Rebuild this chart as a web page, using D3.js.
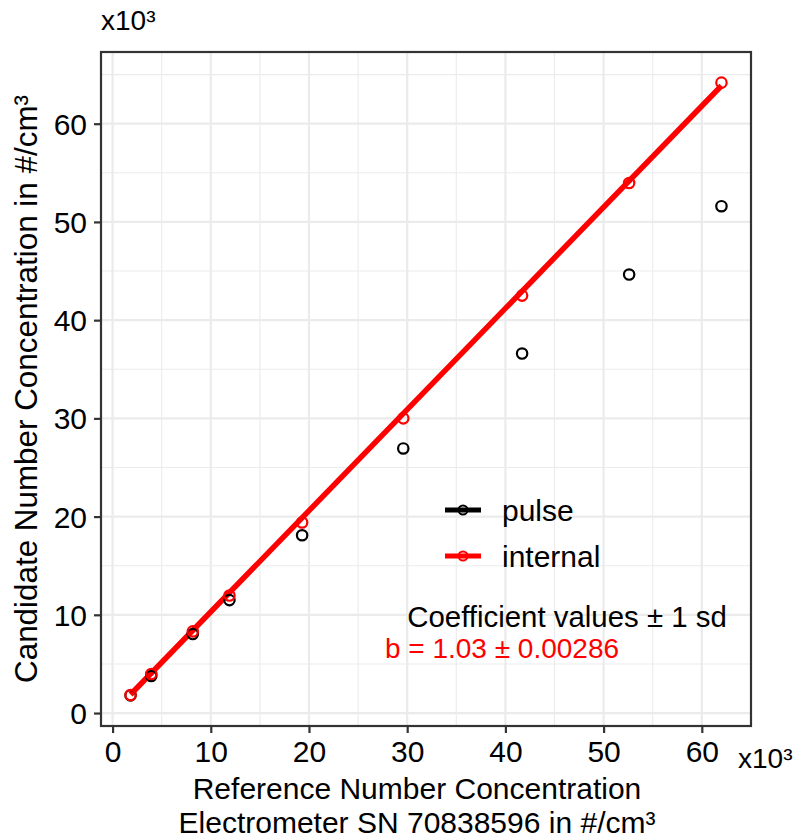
<!DOCTYPE html>
<html>
<head>
<meta charset="utf-8">
<script src="https://cdn.jsdelivr.net/npm/d3@7"></script>
<style>
  body{margin:0;background:#fff;}
  text{font-family:"Liberation Sans",Arial,Helvetica,sans-serif;}
</style>
</head>
<body>
<svg id="chart" width="798" height="839"></svg>
<script>
// 数据 (x10^3 #/cm3)
var refConc=[1.83,3.94,8.17,11.9,19.3,29.6,41.7,52.6,62.0];
var internalConc=[1.83,3.97,8.31,11.96,19.4,30.0,42.5,53.96,64.18];
var pulseConc=[1.8,3.77,8.04,11.5,18.1,26.94,36.6,44.64,51.6];
var seriesNames=["pulse","internal"];
var seriesColors=["#000000","#ff0000"];
var fitSlope=1.03;
var fitLabel="b = 1.03 \u00b1 0.00286";
var xTitleLines=["Reference Number Concentration","Electrometer SN 70838596 in #/cm\u00b3"];
var xTicks=[0,10,20,30,40,50,60];
var yTicks=[0,10,20,30,40,50,60];
var xMinor=[5,15,25,35,45,55,65];
var yMinor=[5,15,25,35,45,55,65];

// 画布布局
var LEFT=101,TOP=52,RIGHT=751,BOTTOM=726;
var svg=d3.select("#chart");

// 坐标范围 (ggplot 5% 扩展)
function expand(ext){var d=(ext[1]-ext[0])*0.05;return [ext[0]-d,ext[1]+d];}
var xExt=d3.extent(refConc);
var yExt=d3.extent(internalConc.concat(pulseConc));
var x=d3.scaleLinear().domain(expand(xExt)).range([LEFT,RIGHT]);
var y=d3.scaleLinear().domain(expand(yExt)).range([BOTTOM,TOP]);

//网格
var grid=svg.append("g");
grid.selectAll(".vminor").data(xMinor.filter(function(d){return x(d)<=RIGHT;})).enter().append("line")
  .attr("x1",function(d){return x(d);}).attr("x2",function(d){return x(d);})
  .attr("y1",TOP).attr("y2",BOTTOM).style("stroke","#ebebeb").style("stroke-width",1.1);
grid.selectAll(".hminor").data(yMinor.filter(function(d){return y(d)>=TOP;})).enter().append("line")
  .attr("y1",function(d){return y(d);}).attr("y2",function(d){return y(d);})
  .attr("x1",LEFT).attr("x2",RIGHT).style("stroke","#ebebeb").style("stroke-width",1.1);
grid.selectAll(".vmajor").data(xTicks).enter().append("line")
  .attr("x1",function(d){return x(d);}).attr("x2",function(d){return x(d);})
  .attr("y1",TOP).attr("y2",BOTTOM).style("stroke","#ebebeb").style("stroke-width",2.2);
grid.selectAll(".hmajor").data(yTicks).enter().append("line")
  .attr("y1",function(d){return y(d);}).attr("y2",function(d){return y(d);})
  .attr("x1",LEFT).attr("x2",RIGHT).style("stroke","#ebebeb").style("stroke-width",2.2);

// 拟合线
svg.append("line")
  .attr("x1",x(xExt[0])).attr("y1",y(fitSlope*xExt[0]))
  .attr("x2",x(xExt[1])).attr("y2",y(fitSlope*xExt[1]))
  .style("stroke",seriesColors[1]).style("stroke-width",5.5);

// 点
[pulseConc,internalConc].forEach(function(vals,k){
  svg.append("g").selectAll("circle").data(vals).enter().append("circle")
    .attr("cx",function(d,i){return x(refConc[i]);})
    .attr("cy",function(d){return y(d);})
    .attr("r",5.2)
    .style("fill","none").style("stroke",seriesColors[k]).style("stroke-width",2.2);
});

// 边框
svg.append("rect").attr("x",LEFT).attr("y",TOP).attr("width",RIGHT-LEFT).attr("height",BOTTOM-TOP)
  .style("fill","none").style("stroke","#333").style("stroke-width",2.2);

// 坐标轴
var xAxis=svg.append("g").attr("transform","translate(0,"+BOTTOM+")")
  .call(d3.axisBottom(x).tickValues(xTicks).tickSize(7).tickPadding(8).tickFormat(d3.format("d")));
var yAxis=svg.append("g").attr("transform","translate("+LEFT+",0)")
  .call(d3.axisLeft(y).tickValues(yTicks).tickSize(7).tickPadding(7).tickFormat(d3.format("d")));
[xAxis,yAxis].forEach(function(a){
  a.select(".domain").remove();
  a.selectAll(".tick line").style("stroke","#333").style("stroke-width",2.2);
  a.selectAll(".tick text").style("font-size","30px").style("fill","#000")
   .style("font-family","'Liberation Sans',Arial,sans-serif");
});
xAxis.selectAll(".tick text").attr("dy","0.71em");
yAxis.selectAll(".tick text").attr("dy","0.35em");

// 倍数标注
svg.append("text").attr("x",101).attr("y",30).style("font-size","28px").text("x10\u00b3");
svg.append("text").attr("x",738).attr("y",768).style("font-size","28px").text("x10\u00b3");

// 轴标题
xTitleLines.forEach(function(t,i){
  svg.append("text").attr("text-anchor","middle").style("font-size","30px")
    .attr("x",417).attr("y",799+i*34).text(t);
});
svg.append("text").attr("text-anchor","middle").style("font-size","31.4px")
  .attr("transform","translate(37,"+((TOP+BOTTOM)/2)+") rotate(-90)")
  .text("Candidate Number Concentration in #/cm\u00b3");

// 图例
var legend=svg.append("g");
seriesNames.forEach(function(name,i){
  var ly=510+i*46;
  legend.append("line").attr("x1",445).attr("x2",481).attr("y1",ly).attr("y2",ly)
    .style("stroke",seriesColors[i]).style("stroke-width",5);
  legend.append("circle").attr("cx",463).attr("cy",ly).attr("r",4.5)
    .style("fill","none").style("stroke",seriesColors[i]).style("stroke-width",2);
  legend.append("text").attr("x",502).attr("y",ly+11).style("font-size","30px").text(name);
});

// 系数
svg.append("text").attr("x",567).attr("y",627).attr("text-anchor","middle")
  .style("font-size","29.4px").text("Coefficient values \u00b1 1 sd");
svg.append("text").attr("x",502).attr("y",658).attr("text-anchor","middle")
  .style("font-size","28px").style("fill",seriesColors[1]).text(fitLabel);
</script>
</body>
</html>
